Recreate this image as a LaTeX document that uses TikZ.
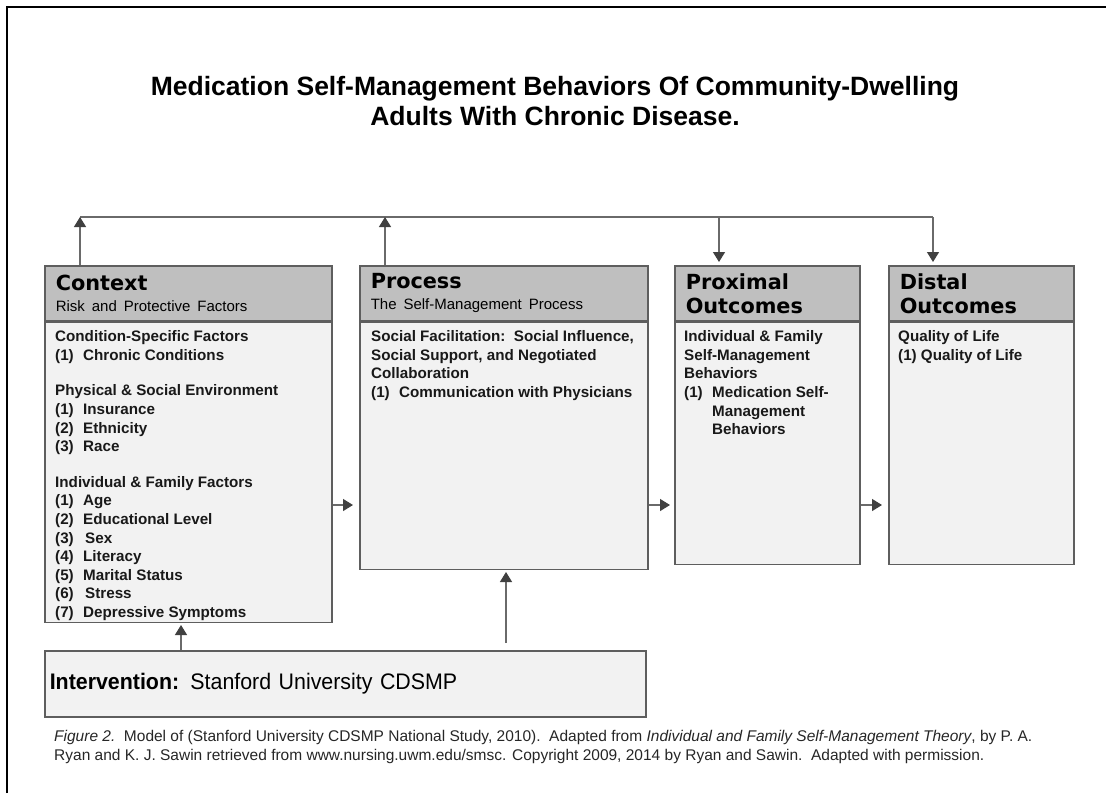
\documentclass[tikz,border=0pt]{standalone}
\usepackage{fontspec}
\setmainfont{Liberation Sans}
\newfontfamily\headfont{DejaVu Sans}
\newfontfamily\narrowfont[FakeStretch=0.95]{Liberation Sans}
\usetikzlibrary{positioning}
\usetikzlibrary{arrows.meta}
\definecolor{headgray}{HTML}{BFBFBF}
\definecolor{bodygray}{HTML}{F2F2F2}
\definecolor{rimgray}{HTML}{5E5E5E}
\definecolor{linegray}{HTML}{6A6A6A}
\definecolor{tipgray}{HTML}{404040}
\tikzset{
    frame/.style = {draw=black, line width=2pt},
    titletext/.style = {anchor=north, align=center, inner sep=0pt, font=\bfseries\fontsize{26.5}{30}\selectfont},
    headbox/.style = {rectangle, draw=rimgray, line width=1.5pt, fill=headgray, anchor=north west, minimum height=55pt, inner xsep=11pt, inner ysep=0pt, align=left, font=\fontsize{20.8}{21}\selectfont},
    bodybox/.style = {rectangle, draw=rimgray, line width=1.5pt, fill=bodygray, anchor=north west},
    bodytext/.style = {inner sep=0pt, align=left, text=black!90, font=\bfseries\fontsize{15.2}{18.6}\selectfont},
    introbox/.style = {rectangle, draw=rimgray, line width=1.5pt, fill=bodygray, anchor=north west, minimum width=601pt, minimum height=66pt, text width=591pt, inner xsep=5pt, align=left, font=\narrowfont\fontsize{22.5}{24}\selectfont},
    captext/.style = {anchor=north west, inner sep=0pt, align=left, text=black!85, font=\fontsize{15.5}{19}\selectfont},
    edgel/.style = {line width=1.3pt, draw=linegray}, % top bar
    edgeg/.style = {-{Triangle[width=12pt,length=10pt,color=tipgray]}, line width=1.3pt, draw=linegray}
}
\begin{document}
\begin{tikzpicture}[x=1pt, y=-1pt]
  \useasboundingbox (0,0) rectangle (1106,793);
  \draw[frame] (7,793) -- (7,7) -- (1106,7);

  \node[titletext] (title) at (555,76) {Medication Self-Management Behaviors Of Community-Dwelling\\Adults With Chronic Disease.};

  % the four boxes
  \node[headbox, minimum width=287pt, text width=265pt] (ctxhead) at (44,265)
    {{\headfont\bfseries Context}\\{\fontsize{15}{21}\selectfont Risk and Protective Factors}};
  \node[bodybox, minimum width=287pt, minimum height=300pt] (ctxbody) at (ctxhead.south west) {};

  \node[headbox, minimum width=288pt, text width=266pt] (prchead) at (359,265)
    {{\headfont\bfseries Process}\\{\fontsize{15}{21}\selectfont The Self-Management Process}};
  \node[bodybox, minimum width=288pt, minimum height=247pt] (prcbody) at (prchead.south west) {};

  \node[headbox, minimum width=185pt, text width=163pt] (proxhead) at (674,265)
    {\headfont\bfseries Proximal\\[3pt]\headfont\bfseries Outcomes};
  \node[bodybox, minimum width=185pt, minimum height=242pt] (proxbody) at (proxhead.south west) {};

  \node[headbox, minimum width=185pt, text width=163pt] (disthead) at (888,265)
    {\headfont\bfseries Distal\\[3pt]\headfont\bfseries Outcomes};
  \node[bodybox, minimum width=185pt, minimum height=242pt] (distbody) at (disthead.south west) {};

  % box contents
  \node[bodytext, below right=9pt and 11pt of ctxbody.north west] (ctxtext)
    {Condition-Specific Factors\\
     \makebox[28pt][l]{(1)}Chronic Conditions\\[17pt]
     Physical \& Social Environment\\
     \makebox[28pt][l]{(1)}Insurance\\
     \makebox[28pt][l]{(2)}Ethnicity\\
     \makebox[28pt][l]{(3)}Race\\[17pt]
     Individual \& Family Factors\\
     \makebox[28pt][l]{(1)}Age\\
     \makebox[28pt][l]{(2)}Educational Level\\
     \makebox[30pt][l]{(3)}Sex\\
     \makebox[28pt][l]{(4)}Literacy\\
     \makebox[28pt][l]{(5)}Marital Status\\
     \makebox[30pt][l]{(6)}Stress\\
     \makebox[28pt][l]{(7)}Depressive Symptoms};

  \node[bodytext, below right=9pt and 12pt of prcbody.north west] (prctext)
    {Social Facilitation:\ \ Social Influence,\\
     Social Support, and Negotiated\\
     Collaboration\\
     \makebox[28pt][l]{(1)}Communication with Physicians};

  \node[bodytext, below right=9pt and 10pt of proxbody.north west] (proxtext)
    {Individual \& Family\\
     Self-Management\\
     Behaviors\\
     \makebox[28pt][l]{(1)}Medication Self-\\
     \hspace*{28pt}Management\\
     \hspace*{28pt}Behaviors};

  \node[bodytext, below right=9pt and 10pt of distbody.north west] (disttext)
    {Quality of Life\\
     (1) Quality of Life};

  \node[introbox] (intv) at (44,650) {\textbf{Intervention:} Stanford University CDSMP};

  \node[captext] (caption) at (54,730)
    {\textit{Figure 2.}\ \ Model of (Stanford University CDSMP National Study, 2010).\ \ Adapted from \textit{Individual and Family Self-Management Theory}, by P. A.\\
     Ryan and K. J. Sawin retrieved from www.nursing.uwm.edu/smsc. Copyright 2009, 2014 by Ryan and Sawin.\ \ Adapted with permission.};

  % connectors
  \coordinate (topA) at (80,217);
  \coordinate (topB) at (385,217);
  \coordinate (topC) at (719,217);
  \coordinate (topD) at (933,217);
  \coordinate (midrow) at (0,505);
  \coordinate (intA) at (181,0);
  \coordinate (intB) at (506,0);

  \draw[edgel] (topA) -- (topD);
  \draw[edgeg] (ctxhead.north -| topA) -- (topA);
  \draw[edgeg] (prchead.north -| topB) -- (topB);
  \draw[edgeg, shorten >=3pt] (topC) -- (proxhead.north -| topC);
  \draw[edgeg, shorten >=3pt] (topD) -- (disthead.north -| topD);

  \draw[edgeg, shorten >=6pt] (ctxbody.east |- midrow) -- (prcbody.west |- midrow);
  \draw[edgeg, shorten >=4pt] (prcbody.east |- midrow) -- (proxbody.west |- midrow);
  \draw[edgeg, shorten >=6pt] (proxbody.east |- midrow) -- (distbody.west |- midrow);

  \draw[edgeg, shorten >=2pt] (intv.north -| intA) -- (ctxbody.south -| intA);
  \draw[edgeg, shorten <=7pt, shorten >=2pt] (intv.north -| intB) -- (prcbody.south -| intB);
\end{tikzpicture}
\end{document}
